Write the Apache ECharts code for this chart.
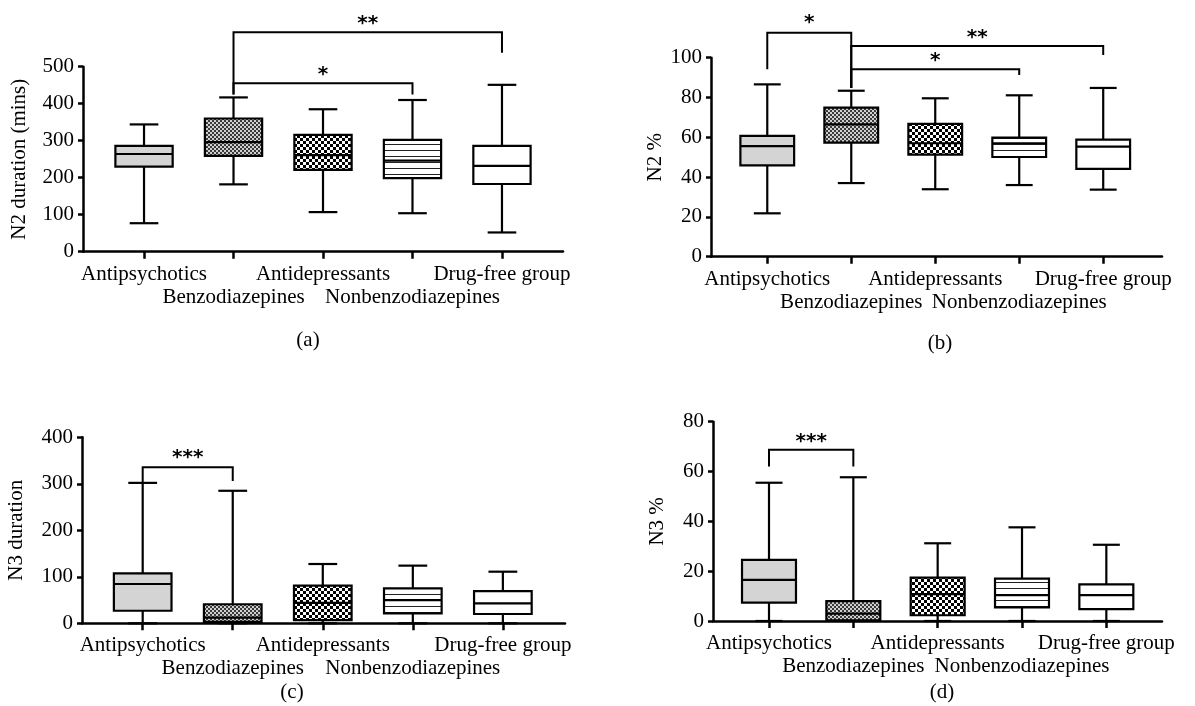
<!DOCTYPE html>
<html>
<head>
<meta charset="utf-8">
<title>N2 / N3 sleep by medication group</title>
<script src="https://cdn.jsdelivr.net/npm/echarts@6/dist/echarts.min.js"></script>
<style>
  html, body { margin: 0; padding: 0; background: #fff; }
  #chart { width: 1195px; height: 706px; }
</style>
</head>
<body>
<div id="chart"></div>
<script>
// groups, in axis order
const groups = ['Antipsychotics', 'Benzodiazepines', 'Antidepressants', 'Nonbenzodiazepines', 'Drug-free group'];

// each row: [min, Q1, median, Q3, max]
const n2Duration = [
  [77, 230, 264, 286, 344],
  [182, 259, 296, 360, 417],
  [107, 221, 261, 316, 385],
  [104, 199, 246, 302, 410],
  [52, 183, 232, 286, 451]
];
const n2Percent = [
  [21.8, 45.9, 55.6, 60.7, 86.6],
  [37, 57.3, 66.5, 74.9, 83.4],
  [33.9, 51.3, 57, 66.7, 79.6],
  [36, 50.1, 57, 59.8, 81.1],
  [33.7, 44.1, 55.3, 58.8, 84.8]
];
const n3Duration = [
  [0, 27, 84.5, 107.5, 302],
  [0, 3, 12, 41, 285],
  [0, 7, 44, 81, 127.5],
  [0, 21.5, 50, 75, 124],
  [0, 20, 43, 69, 111]
];
const n3Percent = [
  [0, 7.4, 16.5, 24.5, 55.5],
  [0, 0.3, 3, 8, 57.7],
  [0, 2.3, 10.8, 17.4, 31.2],
  [0, 5.5, 10.4, 17, 37.6],
  [0, 4.8, 10.4, 14.7, 30.6]
];

// y tick labels
const n2DurationTicks = [0, 100, 200, 300, 400, 500];
const n2PercentTicks = [0, 20, 40, 60, 80, 100];
const n3DurationTicks = [0, 100, 200, 300, 400];
const n3PercentTicks = [0, 20, 40, 60, 80];

// significance brackets: [fromGroup, toGroup, barHeight, leftEnd, rightEnd, starHeight]
const n2DurationSig = [[1, 3, 455, 425, 425, 491], [1, 4, 593, 425, 538, 629]];
const n2DurationStars = ['*', '**'];
const n2PercentSig = [[0, 1, 112.6, 94.2, 84.8, 120], [1, 3, 94.2, 84.8, 91.3, 100.9], [1, 4, 105.9, 84.8, 101.4, 112.4]];
const n2PercentStars = ['*', '*', '**'];
const n3DurationSig = [[0, 1, 335.5, 302, 306, 365.6]];
const n3DurationStars = ['***'];
const n3PercentSig = [[0, 1, 68.7, 62, 62, 74]];
const n3PercentStars = ['***'];

const SERIF = '"Liberation Serif", "Times New Roman", serif';
const BOX_W = 0.64;
const CAP_W = 0.32;

function checker(cell, dark, light) {
  const c = document.createElement('canvas');
  c.width = c.height = cell * 2;
  const g = c.getContext('2d');
  g.fillStyle = light; g.fillRect(0, 0, cell * 2, cell * 2);
  g.fillStyle = dark;
  g.fillRect(0, 0, cell, cell);
  g.fillRect(cell, cell, cell, cell);
  return { image: c, repeat: 'repeat' };
}
function stripes(step) {
  const c = document.createElement('canvas');
  c.width = 4; c.height = step;
  const g = c.getContext('2d');
  g.fillStyle = '#fff'; g.fillRect(0, 0, 4, step);
  g.fillStyle = '#222'; g.fillRect(0, 0, 4, 1);
  return { image: c, repeat: 'repeat' };
}

const fills = ['#d4d4d4', checker(2, '#3a3a3a', '#cfcfcf'), checker(3, '#000', '#fff'), stripes(6), '#fff'];

function renderBox(params, api) {
  const x = api.value(0);
  const lo = api.coord([x, api.value(1)]);
  const q1 = api.coord([x, api.value(2)]);
  const md = api.coord([x, api.value(3)]);
  const q3 = api.coord([x, api.value(4)]);
  const hi = api.coord([x, api.value(5)]);
  const w = api.size([BOX_W, 0])[0];
  const cw = api.size([CAP_W, 0])[0];
  const cx = lo[0];
  const ln = { stroke: '#000', lineWidth: 2.2 };
  return {
    type: 'group',
    children: [
      { type: 'line', shape: { x1: cx, y1: hi[1], x2: cx, y2: q3[1] }, style: ln },
      { type: 'line', shape: { x1: cx, y1: q1[1], x2: cx, y2: lo[1] }, style: ln },
      { type: 'line', shape: { x1: cx - cw / 2, y1: hi[1], x2: cx + cw / 2, y2: hi[1] }, style: ln },
      { type: 'line', shape: { x1: cx - cw / 2, y1: lo[1], x2: cx + cw / 2, y2: lo[1] }, style: ln },
      { type: 'rect', shape: { x: cx - w / 2, y: q3[1], width: w, height: q1[1] - q3[1] },
        style: { fill: fills[params.dataIndex], stroke: '#000', lineWidth: 2.2 } },
      { type: 'line', shape: { x1: cx - w / 2, y1: md[1], x2: cx + w / 2, y2: md[1] }, style: ln }
    ]
  };
}

function makeSig(stars) {
  return function (params, api) {
    const a = api.value(0), b = api.value(1);
    const top = api.value(2);
    const p1 = api.coord([a, api.value(3)]);
    const p2 = api.coord([a, top]);
    const p3 = api.coord([b, top]);
    const p4 = api.coord([b, api.value(4)]);
    const ps = api.coord([(a + b) / 2, api.value(5)]);
    return {
      type: 'group',
      children: [
        { type: 'polyline', shape: { points: [p1, p2, p3, p4] }, style: { stroke: '#000', lineWidth: 2, fill: null } },
        { type: 'text', x: ps[0], y: ps[1] + 5,
          style: { text: stars[params.dataIndex], fill: '#000', font: 'bold 20px "DejaVu Sans"', align: 'center', verticalAlign: 'middle' } }
      ]
    };
  };
}

const panels = [
  { data: n2Duration, ticks: n2DurationTicks, name: 'N2 duration (mins)', sig: n2DurationSig, stars: n2DurationStars,
    label: '(a)', grid: { left: 83, top: 66.7, width: 480, height: 185 }, xr: [-0.682, 4.682], nameGap: 53, cap: [308, 340] },
  { data: n2Percent, ticks: n2PercentTicks, name: 'N2 %', sig: n2PercentSig, stars: n2PercentStars,
    label: '(b)', grid: { left: 711, top: 57.7, width: 451, height: 199 }, xr: [-0.67, 4.7], nameGap: 45, cap: [940, 343] },
  { data: n3Duration, ticks: n3DurationTicks, name: 'N3 duration', sig: n3DurationSig, stars: n3DurationStars,
    label: '(c)', grid: { left: 82, top: 437.3, width: 483, height: 186 }, xr: [-0.674, 4.69], nameGap: 55, cap: [292, 692] },
  { data: n3Percent, ticks: n3PercentTicks, name: 'N3 %', sig: n3PercentSig, stars: n3PercentStars,
    label: '(d)', grid: { left: 713, top: 421.7, width: 449, height: 199.3 }, xr: [-0.664, 4.66], nameGap: 45, cap: [942, 692] }
];

// category labels alternate between two rows
const rowOne = [0, 2, 4];
const rowTwo = [1, 3];
const axisLine = { show: true, onZero: false, lineStyle: { color: '#000', width: 2.5 } };
const tickStyle = { color: '#000', width: 2.5 };

function xAxisRow(p, i, values, margin, showLine) {
  return {
    type: 'value', gridIndex: i, position: 'bottom', min: p.xr[0], max: p.xr[1],
    splitLine: { show: false },
    axisLine: showLine ? axisLine : { show: false, onZero: false },
    axisTick: { show: true, customValues: values, length: 7, lineStyle: tickStyle },
    axisLabel: {
      customValues: values, margin: margin, hideOverlap: false,
      fontFamily: SERIF, fontSize: 21, color: '#000',
      formatter: v => groups[Math.round(v)]
    }
  };
}

const chart = echarts.init(document.getElementById('chart'));
chart.setOption({
  animation: false,
  backgroundColor: '#fff',
  grid: panels.map(p => p.grid),
  xAxis: panels.flatMap((p, i) => [xAxisRow(p, i, rowOne, 12, true), xAxisRow(p, i, rowTwo, 35, false)]),
  yAxis: panels.map((p, i) => ({
    type: 'value', gridIndex: i,
    min: p.ticks[0], max: p.ticks[p.ticks.length - 1], interval: p.ticks[1] - p.ticks[0],
    name: p.name, nameLocation: 'middle', nameGap: p.nameGap,
    nameTextStyle: { fontFamily: SERIF, fontSize: 21, color: '#000' },
    splitLine: { show: false },
    axisLine: axisLine,
    axisTick: { show: true, length: 5, lineStyle: tickStyle },
    axisLabel: { margin: 9, fontFamily: SERIF, fontSize: 21, color: '#000' }
  })),
  series: panels.flatMap((p, i) => [
    { type: 'custom', xAxisIndex: 2 * i, yAxisIndex: i, renderItem: renderBox,
      data: p.data.map((v, k) => [k].concat(v)), encode: { x: 0, y: [1, 2, 3, 4, 5] } },
    { type: 'custom', xAxisIndex: 2 * i, yAxisIndex: i, renderItem: makeSig(p.stars), clip: false,
      data: p.sig, encode: { x: [0, 1], y: [2] } }
  ]),
  graphic: panels.map(p => ({
    type: 'text', x: p.cap[0], y: p.cap[1],
    style: { text: p.label, font: '21px ' + SERIF, fill: '#000', align: 'center', verticalAlign: 'middle' }
  }))
});
</script>
</body>
</html>
